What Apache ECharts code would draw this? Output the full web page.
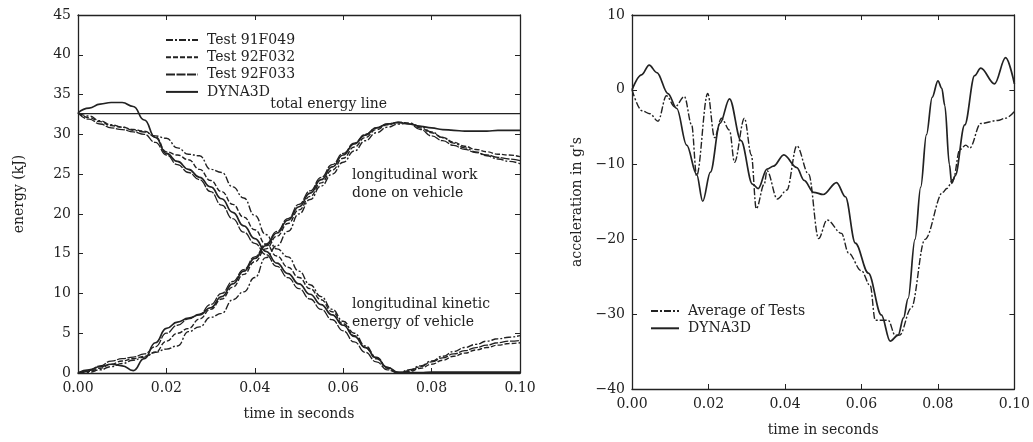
<!DOCTYPE html>
<html>
<head>
<meta charset="utf-8">
<script src="https://cdn.jsdelivr.net/npm/echarts@6/dist/echarts.min.js"></script>
<style>html,body{margin:0;padding:0;background:#fff}#c{width:1033px;height:442px}</style>
</head>
<body>
<div id="c"></div>
<script>
// ---------- Left panel: energy (kJ) vs time ----------
const energyTime = [0,0.0025,0.005,0.0075,0.01,0.0125,0.015,0.0175,0.02,0.0225,0.025,0.0275,0.03,0.0325,0.035,0.0375,0.04,0.0425,0.045,0.0475,0.05,0.0525,0.055,0.0575,0.06,0.0625,0.065,0.0675,0.07,0.0725,0.075,0.0775,0.08,0.0825,0.085,0.0875,0.09,0.0925,0.095,0.0975,0.1];

const keT91F049 = [32.7,32.3,31.7,31.2,30.9,30.5,30.3,29.8,29.5,28.3,27.5,27.3,25.6,25.2,23.4,22.0,19.8,17.4,15.6,14.6,12.8,11.1,9.6,8.0,6.5,5.0,3.4,2.0,0.7,0.0,0.4,0.9,1.5,2.1,2.7,3.2,3.6,4.0,4.3,4.5,4.7];
const keT92F032 = [32.7,32.1,31.6,31.1,30.9,30.6,30.4,29.7,27.8,27.4,26.8,25.6,24.2,22.8,21.2,19.6,18.0,16.2,14.7,13.3,12.0,10.6,9.2,7.7,6.2,4.7,3.2,1.8,0.6,0.0,0.2,0.6,1.1,1.6,2.1,2.5,2.9,3.2,3.5,3.7,3.8];
const keT92F033 = [32.7,31.9,31.3,30.8,30.6,30.3,30.0,29.0,27.4,26.2,25.2,24.3,22.8,21.1,19.4,17.7,16.3,14.9,13.4,12.0,10.6,9.3,8.0,6.7,5.3,3.9,2.6,1.4,0.4,0.0,0.3,0.8,1.4,1.9,2.4,2.8,3.2,3.5,3.8,4.0,4.1];
const keDyna = [32.7,33.3,33.8,34.0,34.0,33.5,31.8,29.6,27.6,26.6,25.6,24.6,23.4,21.9,20.2,18.5,16.9,15.3,13.8,12.5,11.2,9.9,8.6,7.3,6.0,4.6,3.2,1.9,0.7,0.1,0.05,0.05,0.1,0.1,0.1,0.1,0.1,0.1,0.1,0.1,0.1];

const workT91F049 = [0,0.1,0.4,0.8,1.2,1.6,2.0,2.6,3.0,3.4,5.2,5.8,7.0,7.5,9.2,10.2,12.0,14.5,16.0,17.8,20.0,21.8,23.5,25.0,26.5,27.9,29.2,30.2,30.9,31.3,31.4,31.0,30.3,29.6,28.9,28.3,27.8,27.3,26.9,26.6,26.3];
const workT92F032 = [0,0.2,0.6,1.1,1.5,1.8,2.1,2.6,4.0,5.0,5.6,6.8,8.0,9.3,10.8,12.4,14.0,15.6,17.2,18.8,20.5,22.2,23.9,25.5,27.0,28.4,29.6,30.6,31.2,31.5,31.4,30.8,30.2,29.6,29.0,28.5,28.1,27.8,27.5,27.4,27.2];
const workT92F033 = [0,0.3,0.9,1.5,1.8,2.0,2.4,3.3,5.0,6.0,6.8,7.4,8.6,10.0,11.5,13.0,14.6,16.2,17.8,19.4,21.2,22.9,24.6,26.2,27.6,28.9,30.0,30.8,31.3,31.5,31.3,30.6,29.8,29.2,28.6,28.1,27.7,27.4,27.1,26.9,26.7];
const workDyna = [0,0.4,0.8,1.1,0.9,0.3,1.8,3.8,5.6,6.4,6.9,7.3,8.2,9.6,11.2,12.8,14.4,16.0,17.6,19.2,20.9,22.6,24.3,25.9,27.4,28.8,29.9,30.8,31.3,31.5,31.3,31.0,30.8,30.6,30.5,30.4,30.4,30.4,30.5,30.5,30.5];

const totalEnergy = 32.6;

// ---------- Right panel: acceleration (g) vs time ----------
const accTimeDyna = [0,0.0025,0.0045,0.0065,0.0094,0.0117,0.0143,0.0169,0.0185,0.0205,0.023,0.0255,0.0285,0.0315,0.033,0.0353,0.037,0.0397,0.0431,0.045,0.0475,0.05,0.0535,0.0558,0.0584,0.0618,0.0652,0.0675,0.0696,0.071,0.0722,0.074,0.0755,0.077,0.0785,0.08,0.081,0.0818,0.083,0.0836,0.0845,0.087,0.0896,0.0912,0.0948,0.0977,0.1];
const accDyna =     [0,2.0,3.3,2.3,-0.5,-2.5,-7.4,-11.3,-14.9,-11.0,-4.5,-1.2,-6.8,-12.6,-13.2,-10.6,-10.2,-8.7,-10.4,-12.1,-13.7,-14.0,-12.4,-14.3,-20.5,-24.5,-30.1,-33.6,-32.8,-30.5,-27.9,-20.0,-13.0,-6.0,-1.0,1.2,0.2,-2.1,-10.0,-12.5,-11.5,-4.7,1.9,2.9,0.8,4.3,0.8];

const accTimeAvg = [0,0.0026,0.0047,0.0068,0.009,0.0112,0.0137,0.0156,0.0169,0.0198,0.0216,0.0234,0.0255,0.0268,0.0294,0.0312,0.0325,0.0346,0.0353,0.038,0.0405,0.0431,0.0462,0.0488,0.051,0.0548,0.0566,0.06,0.0623,0.0636,0.067,0.0688,0.07,0.073,0.0766,0.0813,0.0823,0.084,0.0857,0.0873,0.0883,0.0912,0.0956,0.0977,0.1];
const accAvg =     [0,-2.8,-3.2,-4.2,-0.8,-2.3,-0.9,-4.7,-11.5,-0.5,-6.4,-3.8,-5.4,-9.7,-3.8,-8.7,-15.9,-12.6,-10.8,-14.6,-13.4,-7.5,-11.3,-19.9,-17.4,-19.2,-21.8,-24.2,-26.2,-30.8,-30.8,-32.8,-32.8,-29.2,-20.0,-13.7,-13.2,-12.0,-8.0,-7.4,-7.8,-4.5,-4.1,-3.8,-2.9];

// ---------- styles ----------
const INK = '#222';
const FONT = 'DejaVu Serif';
const styles = {
  t91: {type:[7,2,2,2], width:1.4},
  t92a:{type:[5,2], width:1.4},
  t92b:{type:[9,1.5], width:1.3},
  dyna:{type:'solid', width:1.7}
};
const zip = (xs, ys) => xs.map((x,i)=>[x, ys[i]]);
function line(name, xi, yi, xs, ys, st, sm){
  return {
    name, type:'line', xAxisIndex:xi, yAxisIndex:yi,
    data: zip(xs, ys), symbol:'none', smooth:sm, smoothMonotone:'x',
    lineStyle:{color:INK, width:st.width, type:st.type},
    itemStyle:{color:INK}, emphasis:{disabled:true}, silent:true, z:3
  };
}
const minus = v => String(v).replace('-', '\u2212');

const axisLbl = {color:INK, fontFamily:FONT, fontSize:14};
const frameLine = {show:true, onZero:false, lineStyle:{color:INK, width:1.3}};
const inTick = {inside:true, length:5, lineStyle:{color:INK}};
function xMain(gi){
  return {gridIndex:gi, type:'value', min:0, max:0.1, interval:0.02,
    name:'time in seconds', nameLocation:'middle', nameGap:34,
    nameTextStyle:{color:INK, fontFamily:FONT, fontSize:14},
    axisLine:frameLine, axisTick:inTick,
    axisLabel:Object.assign({margin:8, formatter:v=>v.toFixed(2)}, axisLbl),
    splitLine:{show:false}};
}
function xTop(gi){
  return {gridIndex:gi, type:'value', position:'top', min:0, max:0.1, interval:0.02,
    axisLine:frameLine, axisTick:inTick,
    axisLabel:{show:false}, splitLine:{show:false}};
}
function yMain(gi, min, max, interval, name, gap){
  return {gridIndex:gi, type:'value', min, max, interval,
    name, nameLocation:'middle', nameGap:gap,
    nameTextStyle:{color:INK, fontFamily:FONT, fontSize:14},
    axisLine:frameLine, axisTick:inTick,
    axisLabel:Object.assign({margin:7, formatter:minus}, axisLbl),
    splitLine:{show:false}};
}
function yRight(gi, min, max, interval){
  return {gridIndex:gi, type:'value', position:'right', min, max, interval,
    axisLine:frameLine, axisTick:inTick,
    axisLabel:{show:false}, splitLine:{show:false}};
}
const annoLabel = {show:true, position:'right', distance:0, color:INK, fontFamily:FONT, fontSize:14, lineHeight:18, align:'left'};

const series = [
  line('Test 91F049',0,0,energyTime,keT91F049,styles.t91,0.5),
  line('Test 92F032',0,0,energyTime,keT92F032,styles.t92a,0.5),
  line('Test 92F033',0,0,energyTime,keT92F033,styles.t92b,0.5),
  line('DYNA3D',0,0,energyTime,keDyna,styles.dyna,0.5),
  line('Test 91F049',0,0,energyTime,workT91F049,styles.t91,0.5),
  line('Test 92F032',0,0,energyTime,workT92F032,styles.t92a,0.5),
  line('Test 92F033',0,0,energyTime,workT92F033,styles.t92b,0.5),
  line('DYNA3D',0,0,energyTime,workDyna,styles.dyna,0.5),
  {name:'total', type:'line', xAxisIndex:0, yAxisIndex:0, symbol:'none', silent:true,
   data:[[0,totalEnergy],[0.1,totalEnergy]], lineStyle:{color:INK, width:1.3},
   markPoint:{symbol:'circle', symbolSize:0, silent:true, label:annoLabel,
     data:[
       {coord:[0.0435,33.8], label:{formatter:'total energy line'}},
       {coord:[0.062,23.7], label:{formatter:'longitudinal work\ndone on vehicle'}},
       {coord:[0.062,7.5], label:{formatter:'longitudinal kinetic\nenergy of vehicle'}}
     ]}},
  line('Average of Tests',2,2,accTimeAvg,accAvg,styles.t91,0.35),
  line('DYNA3D ',2,2,accTimeDyna,accDyna,styles.dyna,0.35)
];

const legendText = {color:INK, fontFamily:FONT, fontSize:14, padding:[0,0,0,4]};
const option = {
  backgroundColor:'#fff',
  animation:false,
  grid:[
    {left:78, top:15, width:442, height:358},
    {left:632, top:15, width:385, height:380}
  ],
  xAxis:[xMain(0), xTop(0), xMain(1), xTop(1)],
  yAxis:[
    yMain(0,0,45,5,'energy (kJ)',52), yRight(0,0,45,5),
    yMain(1,-40,10,10,"acceleration in g's",48), yRight(1,-40,10,10)
  ],
  legend:[
    {data:['Test 91F049','Test 92F032','Test 92F033','DYNA3D'], orient:'vertical',
     left:160, top:28, itemWidth:32, itemHeight:14, itemGap:3.3, textStyle:legendText,
     itemStyle:{opacity:0}, selectedMode:false},
    {data:['Average of Tests','DYNA3D '], orient:'vertical',
     left:645, top:299, itemWidth:28, itemHeight:14, itemGap:3.3, textStyle:legendText,
     itemStyle:{opacity:0}, selectedMode:false}
  ],
  series
};
const chart = echarts.init(document.getElementById('c'), null, {renderer:'canvas'});
chart.setOption(option);
</script>
</body>
</html>
